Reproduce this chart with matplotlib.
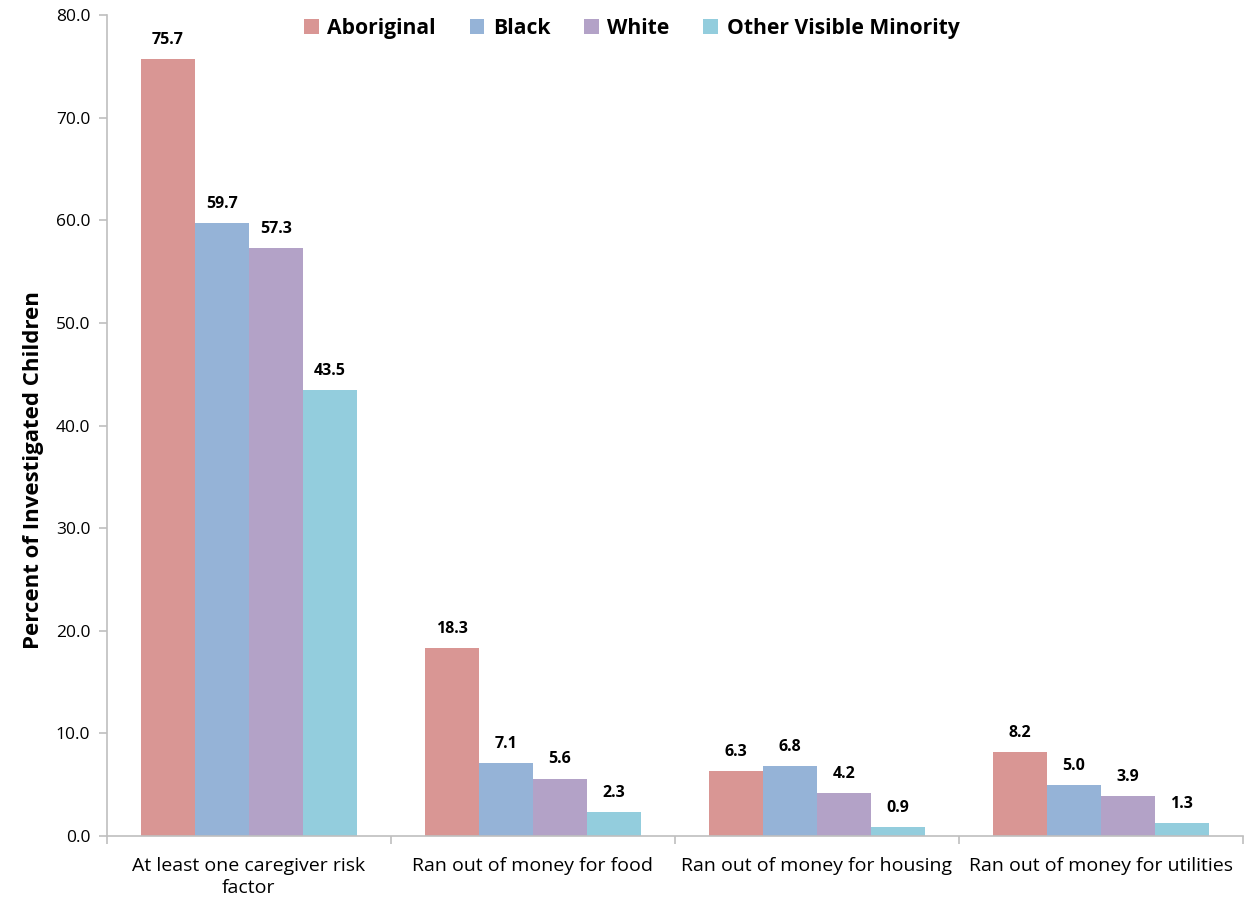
import numpy as np
import matplotlib
matplotlib.use('Agg')
import matplotlib.pyplot as plt

# Chart data
categories = ['At least one caregiver risk\nfactor', 'Ran out of money for food',
              'Ran out of money for housing', 'Ran out of money for utilities']
series_names = ['Aboriginal', 'Black', 'White', 'Other Visible Minority']
aboriginal = [75.7, 18.3, 6.3, 8.2]
black = [59.7, 7.1, 6.8, 5.0]
white = [57.3, 5.6, 4.2, 3.9]
other_minority = [43.5, 2.3, 0.9, 1.3]
yticks = [0, 10, 20, 30, 40, 50, 60, 70, 80]

colors = ['#D99694', '#95B3D7', '#B3A2C7', '#93CDDD']
plt.rcParams['font.family'] = ['Open Sans', 'DejaVu Sans']

fig = plt.figure(figsize=(12.44, 9.05), dpi=100)
ax = fig.add_axes([0.086, 0.0762, 0.913, 0.9072])

x = np.arange(len(categories))
width = 0.19
all_series = [aboriginal, black, white, other_minority]
for i, (name, vals) in enumerate(zip(series_names, all_series)):
    pos = x + (i - 1.5) * width
    bars = ax.bar(pos, vals, width, color=colors[i], label=name, zorder=2)
    for b, v in zip(bars, vals):
        ax.annotate(f'{v:.1f}', (b.get_x() + b.get_width() / 2, v),
                    xytext=(0, 8), textcoords='offset points',
                    ha='center', va='bottom', fontsize=11.5, fontweight='bold')

ax.set_xlim(-0.5, len(categories) - 0.5)
ax.set_ylim(0, 80)
ax.set_yticks(yticks)
ax.set_yticklabels([f'{t:.1f}' for t in yticks], fontsize=12.5)
ax.set_xticks(x)
ax.set_xticklabels(categories, fontsize=14, linespacing=1.3)
ax.tick_params(axis='x', length=0, pad=15)
ax.set_xticks(np.arange(-0.5, len(categories)), minor=True)
ax.tick_params(axis='x', which='minor', length=6, color='#BFBFBF', width=1.2)
ax.tick_params(axis='y', length=6, color='#BFBFBF', width=1.2, pad=6)

for side in ['top', 'right']:
    ax.spines[side].set_visible(False)
for side in ['left', 'bottom']:
    ax.spines[side].set_color('#BFBFBF')
    ax.spines[side].set_linewidth(1.2)

ax.set_ylabel('Percent of Investigated Children', fontsize=16, fontweight='bold')
ax.yaxis.set_label_coords(-0.0555, 0.446)

ax.legend(loc='upper center', bbox_to_anchor=(0.462, 1.02), ncol=4, frameon=False,
          prop={'size': 15.2, 'weight': 'bold'}, handlelength=0.7, handleheight=0.7,
          handletextpad=0.4, columnspacing=1.6)

fig.savefig('out.png', dpi=100)
